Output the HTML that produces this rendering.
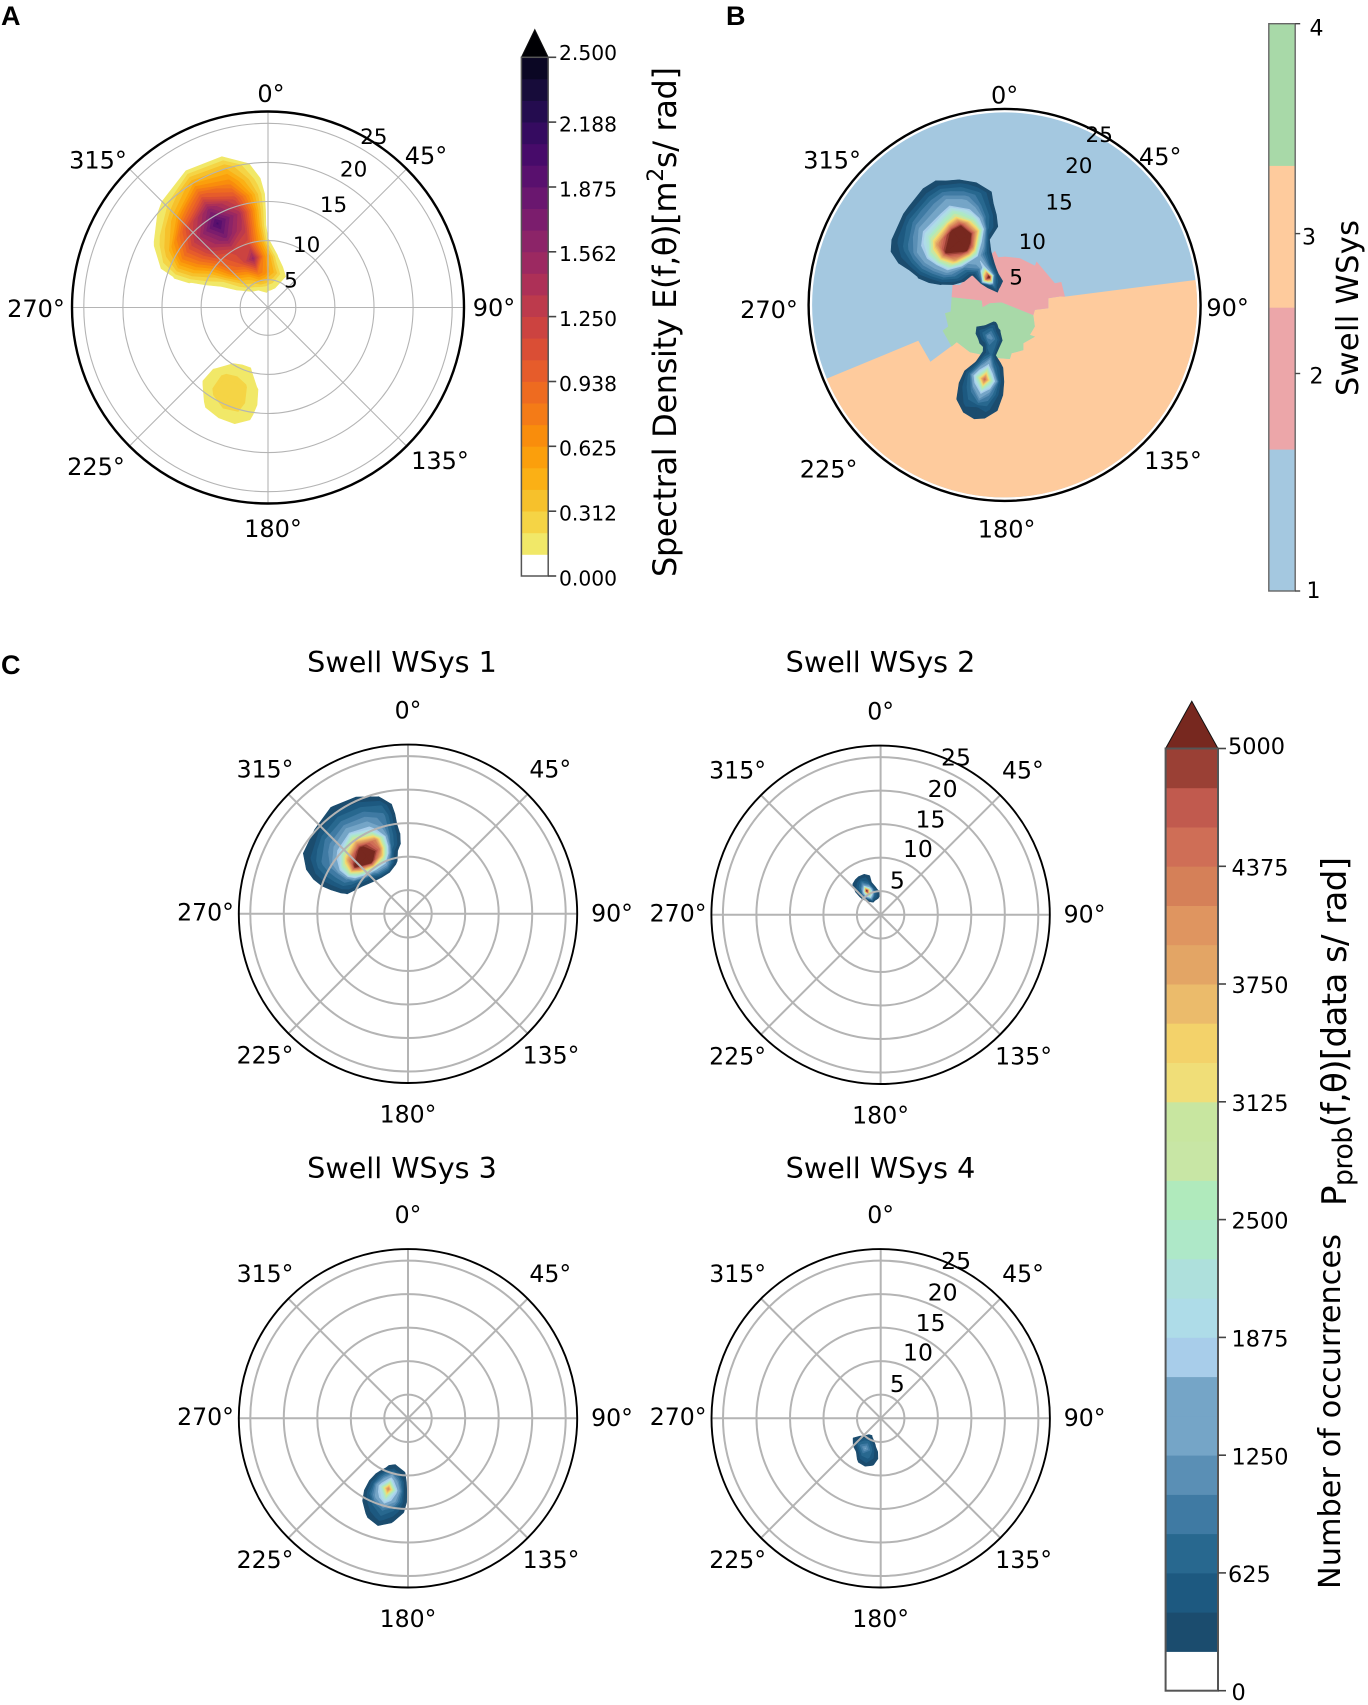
<!DOCTYPE html>
<html lang="en">
<head>
<meta charset="utf-8">
<title>Spectral density and swell wave systems</title>
<style>
html,body{margin:0;padding:0;background:#fff;}
svg{display:block;}
text{font-family:"DejaVu Sans","Liberation Sans",sans-serif;fill:#000;}
.panel-letter{font-family:"Liberation Sans",sans-serif;font-weight:bold;font-size:27px;}
.subplot-title{font-size:28.6px;text-anchor:middle;}
</style>
</head>
<body>
<svg id="figure" xmlns="http://www.w3.org/2000/svg" width="1368" height="1705" viewBox="0 0 1368 1705">
  <defs id="clip-defs"></defs>
  <g id="layer-plots"></g>
  <g id="layer-bars"></g>

  <text class="panel-letter" x="1" y="25">A</text>
  <text class="panel-letter" x="726" y="25">B</text>
  <text class="panel-letter" x="1" y="674">C</text>

  <text class="subplot-title" x="402" y="672">Swell WSys 1</text>
  <text class="subplot-title" x="880.5" y="672">Swell WSys 2</text>
  <text class="subplot-title" x="402" y="1178">Swell WSys 3</text>
  <text class="subplot-title" x="880.5" y="1178">Swell WSys 4</text>

  <text transform="translate(676,577) rotate(-90)" font-size="32" textLength="510">Spectral Density E(f,θ)[m<tspan font-size="22" dy="-13">2</tspan><tspan dy="13">s/ rad]</tspan></text>
  <text transform="translate(1358,396) rotate(-90)" font-size="30.4" textLength="176">Swell WSys</text>
  <text transform="translate(1340,1589) rotate(-90)" font-size="30.3" textLength="355">Number of occurrences</text>
  <text transform="translate(1346,1206) rotate(-90)" font-size="34" textLength="349">P<tspan font-size="27" dy="6">prob</tspan><tspan dy="-6">(f,θ)[data s/ rad]</tspan></text>
</svg>

<script>
/* ---------- axis ticks ---------- */
const radialTicks = [5, 10, 15, 20, 25];
const angleTicks = [0, 45, 90, 135, 180, 225, 270, 315];
const angleLabels = ['0°', '45°', '90°', '135°', '180°', '225°', '270°', '315°'];

/* ---------- colorbar A ---------- */
const densityMax = 2.5;
const densityBandCount = 24;
const densityTicks = [0, 0.3125, 0.625, 0.9375, 1.25, 1.5625, 1.875, 2.1875, 2.5];
const densityTickLabels = ['0.000', '0.312', '0.625', '0.938', '1.250', '1.562', '1.875', '2.188', '2.500'];
const densityColors = ['#f1e868', '#f5d445', '#f6c12c', '#fbb015', '#fb9f0c', '#f98d0c', '#f47b17', '#ee6b20',
  '#e65c2b', '#da4e35', '#cc4340', '#bd3a4c', '#ad3057', '#9c2961', '#8c2468', '#7b1d6d', '#6a176f', '#59106e',
  '#470b6a', '#350b60', '#240c4f', '#170c3a', '#0b0724'];
const densityOverColor = '#000004';

/* ---------- colorbar C ---------- */
const occurrenceMax = 5000;
const occurrenceBandCount = 24;
const occurrenceTicks = [0, 625, 1250, 1875, 2500, 3125, 3750, 4375, 5000];
const occurrenceTickLabels = ['0', '625', '1250', '1875', '2500', '3125', '3750', '4375', '5000'];
const occurrenceColors = ['#1b4c6e', '#1d5980', '#28688f', '#3f7aa3', '#5a8fb5', '#75a5c7', '#75a5c7', '#a8cdea',
  '#aedce8', '#aee0dc', '#aee8c8', '#b0eabc', '#c8e6a5', '#c8e6a0', '#f0de78', '#f3d26a', '#ebbb6b', '#e3a565',
  '#df9560', '#d58058', '#cf6e56', '#c15a4e', '#9a4035'];
const occurrenceOverColor = '#77281f';

/* ---------- colorbar B ---------- */
const swellBandEdges = [1, 1.75, 2.5, 3.25, 4];
const swellBandColors = ['#a4c8e0', '#eca6a9', '#fecb9d', '#a8d9a8'];
const swellTicks = [1, 2.15, 2.89, 4];
const swellTickLabels = ['1', '2', '3', '4'];

/* ---------- panel A: spectral density, columns = direction, rows = radial coordinate ---------- */
const densityMainThetas = [-85, -72, -60, -45, -31, -17, -5, 0, 10, 20, 30, 40];
const densityMainRadii = [2, 4, 6, 8, 10, 12, 14, 16, 18, 20, 22, 24];
const densityMainValues = [
  [0, 0, 0, 0, 0, 0, 0, 0, 0, 0, 0, 0],
  [0, 0, 0, 0, .05, .11, .11, .04, 0, 0, 0, 0],
  [0, 0, .11, .2, .4, .65, .75, .42, .12, 0, 0, 0],
  [0, .05, .35, .8, 1.0, 1.3, 1.4, 1.1, .5, .15, 0, 0],
  [0, .1, .5, 1.05, 1.2, 1.7, 2.0, 1.6, 1.0, .5, .07, 0],
  [0, .13, .78, 1.5, 1.1, 1.3, 1.4, 1.1, .7, .42, .03, 0],
  [0, .15, .7, .7, .45, .35, .35, .3, .15, .02, 0, 0],
  [0, .13, .55, .5, .12, 0, 0, 0, 0, 0, 0, 0],
  [0, .12, .4, .12, 0, 0, 0, 0, 0, 0, 0, 0],
  [0, .1, .2, 0, 0, 0, 0, 0, 0, 0, 0, 0],
  [0, .05, .1, 0, 0, 0, 0, 0, 0, 0, 0, 0],
  [0, 0, 0, 0, 0, 0, 0, 0, 0, 0, 0, 0]
];
const densitySouthThetas = [180, 188, 196, 204, 212, 220, 228];
const densitySouthRadii = [8, 10, 12, 14, 16, 18];
const densitySouthValues = [
  [0, 0, 0, 0, 0, 0],
  [0, 0, .12, .13, .09, 0],
  [0, .14, .22, .24, .19, 0],
  [0, .14, .26, .27, .19, 0],
  [0, .11, .24, .24, .14, 0],
  [0, 0, .13, .13, 0, 0],
  [0, 0, 0, 0, 0, 0]
];

/* ---------- panel B: swell system partition regions, [direction, radial coordinate] ---------- */
const orangeGreenBorder = [[232.1, 9.2], [216.2, 8.95], [185, 8.3], [174.4, 8.4], [171.8, 7.7], [157.5, 7.7], [154, 6.9],
  [136.2, 7.06], [139.8, 6.47], [125.5, 6.2], [109.8, 5.35]];
const pinkGreenBorder = [[308, 1.94], [276.5, 3.34], [264, 4.28], [280.7, 4.44], [278.2, 8.3]];
const orangeOuter = [[82.6, 32], [130, 32], [180, 32], [230, 32], [247.5, 32], [247.4, 13.4], [232.6, 13.4]];
const orangePinkBorder = [[99.4, 5.38], [94.4, 7.05], [81.3, 7.1], [81.4, 8.6], [82.2, 9.25]];
const pinkOuter = [[291, 8.57], [294, 7.7], [312.4, 7.45], [349.9, 8.47], [352.4, 7.6], [360.4, 7.63], [378.2, 7.73],
  [397.6, 7.8], [396.4, 8.34], [426.7, 8.46], [427.7, 9.1], [428, 9.27]];
const greenOuter = [[263, 8.4], [262, 9.15], [249, 9.17], [247.5, 10.03], [231.8, 10.07]];

/* ---------- panel B: occurrence fields ---------- */
const combinedNorthThetas = [-80, -72, -60, -48, -35, -29, -20, -13, -4, 3];
const combinedNorthRadii = [3, 4.5, 5.5, 7, 8.5, 10, 11.5, 13, 14.5, 16, 17.5, 19, 20.5];
const combinedNorthValues = [
  [0, 0, 0, 0, 0, 0, 0, 0, 0, 0, 0, 0, 0],
  [0, 0, 0, 0, 0, 220, 260, 230, 0, 0, 0, 0, 0],
  [0, 0, 0, 0, 700, 1350, 1500, 1450, 1150, 730, 350, 0, 0],
  [0, 100, 120, 150, 1000, 3900, 5100, 4000, 2300, 1300, 730, 150, 0],
  [0, 500, 4600, 1000, 1500, 5200, 6500, 5200, 2600, 1400, 950, 350, 0],
  [0, 1000, 5400, 1900, 1500, 4400, 6000, 5000, 2900, 1600, 1000, 350, 0],
  [0, 500, 1000, 600, 700, 1600, 3500, 2500, 1600, 1150, 600, 0, 0],
  [0, 350, 250, 150, 100, 200, 700, 900, 800, 700, 200, 0, 0],
  [0, 200, 0, 0, 0, 0, 150, 100, 0, 0, 0, 0, 0],
  [0, 0, 0, 0, 0, 0, 0, 0, 0, 0, 0, 0, 0]
];
const combinedSouthThetas = [178, 184, 190, 195, 201, 207, 213, 219, 225, 232, 238];
const combinedSouthRadii = [3.5, 5, 6, 7, 8, 9.5, 11.3, 13, 15, 17];
const combinedSouthValues = [
  [0, 0, 0, 0, 0, 0, 0, 0, 0, 0],
  [0, 0, 220, 0, 0, 350, 500, 400, 208, 0],
  [0, 250, 500, 350, 200, 800, 2600, 1100, 500, 0],
  [0, 300, 800, 800, 700, 1800, 4500, 1800, 400, 150],
  [0, 500, 1100, 800, 400, 1000, 2400, 900, 500, 0],
  [0, 700, 1250, 300, 100, 150, 700, 450, 200, 0],
  [0, 600, 800, 300, 0, 0, 0, 0, 0, 0],
  [0, 300, 600, 150, 0, 0, 0, 0, 0, 0],
  [0, 150, 400, 100, 0, 0, 0, 0, 0, 0],
  [0, 0, 200, 0, 0, 0, 0, 0, 0, 0],
  [0, 0, 0, 0, 0, 0, 0, 0, 0, 0]
];

/* ---------- panel C: occurrence fields per wave system ---------- */
const wsys1Thetas = [-80, -72, -60, -48, -36, -24, -14, -6, 0];
const wsys1Radii = [7, 8, 9.5, 11, 12, 13.5, 15, 16.5, 18, 19.5, 21, 22.5];
const wsys1Values = [
  [0, 0, 0, 0, 0, 0, 0, 0, 0, 0, 0, 0],
  [0, 0, 100, 200, 230, 230, 210, 80, 0, 0, 0, 0],
  [0, 0, 200, 750, 1100, 1050, 950, 800, 450, 208, 0, 0],
  [0, 0, 550, 3400, 5200, 3900, 2000, 1170, 850, 400, 0, 0],
  [0, 50, 1400, 5400, 6200, 5200, 3300, 1500, 950, 570, 220, 0],
  [0, 0, 1350, 3500, 4400, 4200, 2000, 1250, 850, 450, 100, 0],
  [0, 0, 300, 500, 800, 900, 900, 900, 650, 200, 0, 0],
  [0, 0, 0, 0, 200, 220, 100, 50, 0, 0, 0, 0],
  [0, 0, 0, 0, 0, 0, 0, 0, 0, 0, 0, 0]
];
const wsys2Thetas = [-58, -50, -42, -36, -30, -22, -16, -8, -2, 4];
const wsys2Radii = [3.5, 4.25, 5, 5.6, 6.5, 7.5, 8.5];
const wsys2Values = [
  [0, 0, 0, 0, 0, 0, 0],
  [0, 0, 150, 150, 100, 0, 0],
  [0, 250, 700, 650, 500, 250, 0],
  [0, 500, 2100, 2000, 800, 350, 0],
  [0, 1200, 3300, 5200, 1300, 450, 0],
  [0, 600, 2200, 2000, 700, 400, 0],
  [0, 500, 900, 600, 220, 220, 0],
  [0, 350, 350, 100, 0, 0, 0],
  [0, 150, 150, 0, 0, 0, 0],
  [0, 0, 0, 0, 0, 0, 0]
];
const wsys3Thetas = [178, 183, 189, 195.6, 202, 208, 213, 219];
const wsys3Radii = [8, 9.5, 11, 12.4, 14, 15.5, 17, 18.5];
const wsys3Values = [
  [0, 0, 0, 0, 0, 0, 0, 0],
  [0, 200, 300, 350, 350, 230, 0, 0],
  [0, 300, 1100, 1800, 1300, 600, 250, 0],
  [0, 500, 2000, 4200, 2200, 900, 500, 100],
  [0, 300, 1100, 2000, 1400, 600, 300, 0],
  [0, 0, 350, 600, 500, 250, 0, 0],
  [0, 0, 0, 80, 50, 0, 0, 0],
  [0, 0, 0, 0, 0, 0, 0, 0]
];
const wsys4Thetas = [178, 183, 190, 198, 207, 216, 225, 234, 242];
const wsys4Radii = [3.5, 4.5, 5.5, 6.5, 7.5, 8.5, 9.5];
const wsys4Values = [
  [0, 0, 0, 0, 0, 0, 0],
  [0, 0, 0, 150, 180, 100, 0],
  [0, 0, 150, 350, 400, 230, 0],
  [0, 50, 450, 800, 700, 400, 0],
  [0, 250, 700, 1300, 700, 300, 0],
  [0, 220, 600, 900, 250, 0, 0],
  [0, 0, 300, 500, 120, 0, 0],
  [0, 0, 100, 220, 0, 0, 0],
  [0, 0, 0, 0, 0, 0, 0]
];

/* ---------- layout (pixels, not data) ---------- */
const SVGNS = 'http://www.w3.org/2000/svg';
const plotLayer = document.getElementById('layer-plots');
const barLayer = document.getElementById('layer-bars');
const clipDefs = document.getElementById('clip-defs');

const wideAngleOffsets = {
  a: [[3, -214], [158, -152], [226, 0], [172, 153], [5, 221], [-172, 159], [-232, 1], [-170, -147.5]],
  b: [[0, -210], [155.6, -148.7], [223, 2.7], [168.4, 155.7], [2, 224], [-176, 164], [-235.6, 4.7], [-172.5, -145]],
  c: [[0, -204], [142.3, -144.8], [204, -1], [143, 141], [0, 200], [-143, 141], [-202.5, -2], [-143, -145]]
};
const panelA = { id: 'a', cx: 268, cy: 307.5, radius: 196, fillRadius: 196, rMin: 1.45, scale: 7.82,
  gridWidth: 1.1, edgeWidth: 2.4, angleFont: 24, radialFont: 21.5, grid: true, angleOffsets: wideAngleOffsets.a,
  radialAngle: 32, radialNudgeX: [8.3, 3.2, 9.3, 8.7, 8.2], radialNudgeY: [4, 6.7, 13.1, 15.7, 15] };
const panelB = { id: 'b', cx: 1004.6, cy: 304.9, radius: 196, fillRadius: 192.5, rMin: 1.45, scale: 7.82,
  gridWidth: 0, edgeWidth: 2.4, angleFont: 24, radialFont: 21.5, grid: false, angleOffsets: wideAngleOffsets.b,
  radialAngle: 25, radialNudgeX: [-.2, -.6, 9.7, 12.9, 16.8], radialNudgeY: [2.9, 3, 7, 8.2, 3.7] };
const smallRadialNudgeX = [6.7, 13.1, 11.6, 9.5, 8.7];
const smallRadialNudgeY = [13.3, 14.2, 13.5, 13.7, 14.8];
function smallPanel(id, cx, cy, showRadial) {
  return { id: id, cx: cx, cy: cy, radius: 169.2, fillRadius: 169.2, rMin: 1.46, scale: 6.7,
    gridWidth: 2, edgeWidth: 1.9, angleFont: 23.6, radialFont: 23.5, grid: true, angleOffsets: wideAngleOffsets.c,
    showRadial: showRadial, radialAngle: 25, radialNudgeX: smallRadialNudgeX, radialNudgeY: smallRadialNudgeY };
}
panelA.showRadial = true;
panelB.showRadial = true;
const panelC1 = smallPanel('c1', 408, 913.8, false);
const panelC2 = smallPanel('c2', 880.6, 914.8, true);
const panelC3 = smallPanel('c3', 408, 1418.3, false);
const panelC4 = smallPanel('c4', 880.7, 1418.3, true);

/* ---------- axis functions ---------- */
function radiusToPixels(panel, r) {
  return (r - panel.rMin) * panel.scale;
}
function polarPoint(panel, theta, r) {
  const rad = theta * Math.PI / 180;
  const rho = radiusToPixels(panel, r);
  return [panel.cx + rho * Math.sin(rad), panel.cy - rho * Math.cos(rad)];
}
function fmt(v) {
  return v.toFixed(1);
}
function make(tag) {
  return document.createElementNS(SVGNS, tag);
}
function setAttrs(el, attrs) {
  Object.keys(attrs).forEach(function (k) { el.setAttribute(k, attrs[k]); });
  return el;
}

/* ---------- filled contours from a value grid ---------- */
function bandPathData(panel, thetas, radii, values, level) {
  let d = '';
  for (let i = 0; i < thetas.length - 1; i++) {
    for (let j = 0; j < radii.length - 1; j++) {
      const corners = [
        [thetas[i], radii[j], values[i][j]],
        [thetas[i + 1], radii[j], values[i + 1][j]],
        [thetas[i + 1], radii[j + 1], values[i + 1][j + 1]],
        [thetas[i], radii[j + 1], values[i][j + 1]]
      ];
      const poly = [];
      for (let k = 0; k < 4; k++) {
        const a = corners[k];
        const b = corners[(k + 1) % 4];
        if (a[2] >= level) poly.push([a[0], a[1]]);
        if ((a[2] >= level) !== (b[2] >= level)) {
          const t = (level - a[2]) / (b[2] - a[2]);
          poly.push([a[0] + t * (b[0] - a[0]), a[1] + t * (b[1] - a[1])]);
        }
      }
      if (poly.length >= 3) {
        d += poly.map(function (q, idx) {
          const xy = polarPoint(panel, q[0], q[1]);
          return (idx ? 'L' : 'M') + fmt(xy[0]) + ' ' + fmt(xy[1]);
        }).join('') + 'Z';
      }
    }
  }
  return d;
}
function drawField(parent, panel, thetas, radii, values, vmax, bandCount, colors, overColor, fieldName) {
  const group = make('g');
  
  
  group.setAttribute('clip-path', 'url(#clip-' + panel.id + ')');
  parent.appendChild(group);
  const step = vmax / bandCount;
  for (let n = 1; n <= bandCount; n++) {
    const color = n <= colors.length ? colors[n - 1] : overColor;
    const d = bandPathData(panel, thetas, radii, values, n * step);
    if (!d) continue;
    const path = make('path');
    
    
    setAttrs(path, { d: d, fill: color, stroke: color, 'stroke-width': 0.6, 'stroke-linejoin': 'round' });
    group.appendChild(path);
  }
}

/* ---------- polar axes ---------- */
function startPanel(panel, panelName) {
  const clip = make('clipPath');
  clip.setAttribute('id', 'clip-' + panel.id);
  const clipCircle = make('circle');
  setAttrs(clipCircle, { cx: panel.cx, cy: panel.cy, r: panel.fillRadius });
  clip.appendChild(clipCircle);
  clipDefs.appendChild(clip);
  const group = make('g');
  
  
  plotLayer.appendChild(group);
  return group;
}
function drawGrid(parent, panel) {
  if (!panel.grid) return;
  radialTicks.forEach(function (r) {
    const ring = make('circle');
    
    
    setAttrs(ring, { cx: panel.cx, cy: panel.cy, r: fmt(radiusToPixels(panel, r)), fill: 'none', stroke: '#b4b4b4', 'stroke-width': panel.gridWidth });
    parent.appendChild(ring);
  });
  angleTicks.forEach(function (a) {
    const rad = a * Math.PI / 180;
    const spoke = make('line');
    
    
    setAttrs(spoke, { x1: panel.cx, y1: panel.cy, x2: fmt(panel.cx + panel.radius * Math.sin(rad)), y2: fmt(panel.cy - panel.radius * Math.cos(rad)), stroke: '#b4b4b4', 'stroke-width': panel.gridWidth });
    parent.appendChild(spoke);
  });
}
function drawFrame(parent, panel) {
  const edge = make('circle');
  
  
  setAttrs(edge, { cx: panel.cx, cy: panel.cy, r: panel.radius, fill: 'none', stroke: '#000', 'stroke-width': panel.edgeWidth });
  parent.appendChild(edge);
  angleLabels.forEach(function (label, i) {
    const off = panel.angleOffsets[i];
    const t = make('text');
    
    
    setAttrs(t, { x: fmt(panel.cx + off[0]), y: fmt(panel.cy + off[1]), dy: '0.36em', 'text-anchor': 'middle', 'font-size': panel.angleFont });
    t.textContent = label;
    parent.appendChild(t);
  });
  if (!panel.showRadial) return;
  radialTicks.forEach(function (r, i) {
    const xy = polarPoint(panel, panel.radialAngle, r);
    const t = make('text');
    
    
    setAttrs(t, { x: fmt(xy[0] + panel.radialNudgeX[i]), y: fmt(xy[1] - panel.radialNudgeY[i]), dy: '0.36em', 'text-anchor': 'middle', 'font-size': panel.radialFont });
    t.textContent = String(r);
    parent.appendChild(t);
  });
}
function regionPath(panel, vertices) {
  return vertices.map(function (q, idx) {
    const xy = polarPoint(panel, q[0], q[1]);
    return (idx ? 'L' : 'M') + fmt(xy[0]) + ' ' + fmt(xy[1]);
  }).join('') + 'Z';
}

/* ---------- colorbars ---------- */
function drawBandedBar(box, vmax, bandCount, colors, overColor, ticks, labels, labelFont, labelFor, barName) {
  const group = make('g');
  
  
  barLayer.appendChild(group);
  const y = function (v) { return box.bottom - (v / vmax) * (box.bottom - box.top); };
  const step = vmax / bandCount;
  colors.forEach(function (color, i) {
    const band = make('rect');
    
    
    const top = y((i + 2) * step);
    const bottom = y((i + 1) * step);
    setAttrs(band, { x: box.left, y: fmt(top), width: box.right - box.left, height: fmt(bottom - top + 0.4), fill: color });
    group.appendChild(band);
  });
  const arrow = make('polygon');
  
  
  setAttrs(arrow, { points: box.left + ',' + box.top + ' ' + ((box.left + box.right) / 2) + ',' + box.apex + ' ' + box.right + ',' + box.top, fill: overColor, stroke: '#111', 'stroke-width': 1 });
  group.appendChild(arrow);
  const outline = make('rect');
  
  
  setAttrs(outline, { x: box.left, y: box.top, width: box.right - box.left, height: box.bottom - box.top, fill: 'none', stroke: '#555', 'stroke-width': box.stroke });
  group.appendChild(outline);
  ticks.forEach(function (v, i) {
    const tick = make('line');
    
    
    setAttrs(tick, { x1: box.right, x2: box.right + 8, y1: fmt(y(v)), y2: fmt(y(v)), stroke: '#444', 'stroke-width': 1.6 });
    group.appendChild(tick);
    const place = labelFor(i);
    const t = make('text');
    
    
    setAttrs(t, { x: place.x, y: fmt(y(v) + place.dy), dy: '0.36em', 'font-size': labelFont, fill: '#222' });
    t.textContent = labels[i];
    group.appendChild(t);
  });
}
function drawSwellBar() {
  const box = { left: 1268.8, right: 1295.2, top: 23.7, bottom: 591 };
  const labelX = [1313.5, 1316.5, 1309, 1316.5];
  const labelDy = [-1, 2, 3, 4];
  const y = function (v) {
    return box.bottom - (v - swellBandEdges[0]) / (swellBandEdges[swellBandEdges.length - 1] - swellBandEdges[0]) * (box.bottom - box.top);
  };
  const group = make('g');
  
  
  barLayer.appendChild(group);
  swellBandColors.forEach(function (color, i) {
    const band = make('rect');
    
    
    const top = y(swellBandEdges[i + 1]);
    setAttrs(band, { x: box.left, y: fmt(top), width: box.right - box.left, height: fmt(y(swellBandEdges[i]) - top + 0.4), fill: color });
    group.appendChild(band);
  });
  const outline = make('rect');
  
  
  setAttrs(outline, { x: box.left, y: box.top, width: box.right - box.left, height: box.bottom - box.top, fill: 'none', stroke: '#666', 'stroke-width': 1.4 });
  group.appendChild(outline);
  swellTicks.forEach(function (v, i) {
    const tick = make('line');
    
    
    setAttrs(tick, { x1: box.right, x2: box.right + 5, y1: fmt(y(v)), y2: fmt(y(v)), stroke: '#444', 'stroke-width': 1.4 });
    group.appendChild(tick);
    const t = make('text');
    
    
    setAttrs(t, { x: labelX[i], y: fmt(y(v) + labelDy[i]), dy: '0.36em', 'text-anchor': 'middle', 'font-size': 22 });
    t.textContent = swellTickLabels[i];
    group.appendChild(t);
  });
}

/* ---------- build panel A ---------- */
const groupA = startPanel(panelA, 'spectral-density-polar-plot');
drawField(groupA, panelA, densityMainThetas, densityMainRadii, densityMainValues, densityMax, densityBandCount, densityColors, densityOverColor, 'density-field-northwest');
drawField(groupA, panelA, densitySouthThetas, densitySouthRadii, densitySouthValues, densityMax, densityBandCount, densityColors, densityOverColor, 'density-field-south');
drawGrid(groupA, panelA);
drawFrame(groupA, panelA);

/* ---------- build panel B ---------- */
const groupB = startPanel(panelB, 'swell-systems-polar-plot');
const discB = make('circle');


setAttrs(discB, { cx: panelB.cx, cy: panelB.cy, r: panelB.fillRadius, fill: swellBandColors[0] });
groupB.appendChild(discB);
const regionsB = make('g');


regionsB.setAttribute('clip-path', 'url(#clip-b)');
groupB.appendChild(regionsB);
const regionOrange = make('path');


setAttrs(regionOrange, { d: regionPath(panelB, orangeOuter.concat(orangeGreenBorder, orangePinkBorder)), fill: swellBandColors[2] });
regionsB.appendChild(regionOrange);
const regionPink = make('path');


setAttrs(regionPink, { d: regionPath(panelB, orangePinkBorder.slice().reverse().concat([orangeGreenBorder[orangeGreenBorder.length - 1]], pinkGreenBorder, pinkOuter)), fill: swellBandColors[1] });
regionsB.appendChild(regionPink);
const regionGreen = make('path');


setAttrs(regionGreen, { d: regionPath(panelB, pinkGreenBorder.concat(greenOuter, orangeGreenBorder)), fill: swellBandColors[3] });
regionsB.appendChild(regionGreen);
drawField(groupB, panelB, combinedNorthThetas, combinedNorthRadii, combinedNorthValues, occurrenceMax, occurrenceBandCount, occurrenceColors, occurrenceOverColor, 'occurrence-field-north');
drawField(groupB, panelB, combinedSouthThetas, combinedSouthRadii, combinedSouthValues, occurrenceMax, occurrenceBandCount, occurrenceColors, occurrenceOverColor, 'occurrence-field-south');
drawFrame(groupB, panelB);

/* ---------- build panel C ---------- */
const groupC1 = startPanel(panelC1, 'swell-wsys-1-polar-plot');
drawField(groupC1, panelC1, wsys1Thetas, wsys1Radii, wsys1Values, occurrenceMax, occurrenceBandCount, occurrenceColors, occurrenceOverColor, 'wsys-1-occurrence-field');
drawGrid(groupC1, panelC1);
drawFrame(groupC1, panelC1);
const groupC2 = startPanel(panelC2, 'swell-wsys-2-polar-plot');
drawField(groupC2, panelC2, wsys2Thetas, wsys2Radii, wsys2Values, occurrenceMax, occurrenceBandCount, occurrenceColors, occurrenceOverColor, 'wsys-2-occurrence-field');
drawGrid(groupC2, panelC2);
drawFrame(groupC2, panelC2);
const groupC3 = startPanel(panelC3, 'swell-wsys-3-polar-plot');
drawField(groupC3, panelC3, wsys3Thetas, wsys3Radii, wsys3Values, occurrenceMax, occurrenceBandCount, occurrenceColors, occurrenceOverColor, 'wsys-3-occurrence-field');
drawGrid(groupC3, panelC3);
drawFrame(groupC3, panelC3);
const groupC4 = startPanel(panelC4, 'swell-wsys-4-polar-plot');
drawField(groupC4, panelC4, wsys4Thetas, wsys4Radii, wsys4Values, occurrenceMax, occurrenceBandCount, occurrenceColors, occurrenceOverColor, 'wsys-4-occurrence-field');
drawGrid(groupC4, panelC4);
drawFrame(groupC4, panelC4);

/* ---------- build colorbars ---------- */
drawBandedBar({ left: 521.4, right: 548.2, top: 57.3, bottom: 576, apex: 29.7, stroke: 1.5 },
  densityMax, densityBandCount, densityColors, densityOverColor, densityTicks, densityTickLabels, 20.3,
  function (i) { return { x: 559, dy: i === densityTicks.length - 1 ? -4.7 : 2 }; }, 'density-colorbar');
drawBandedBar({ left: 1165.6, right: 1218, top: 748.5, bottom: 1690.7, apex: 701.3, stroke: 2 },
  occurrenceMax, occurrenceBandCount, occurrenceColors, occurrenceOverColor, occurrenceTicks, occurrenceTickLabels, 22.4,
  function (i) {
    const labelText = occurrenceTickLabels[i];
    return { x: (labelText === '5000' || labelText === '625') ? 1228 : 1231.5, dy: labelText === '5000' ? -2.5 : 1 };
  }, 'occurrence-colorbar');
drawSwellBar();
</script>
</body>
</html>
